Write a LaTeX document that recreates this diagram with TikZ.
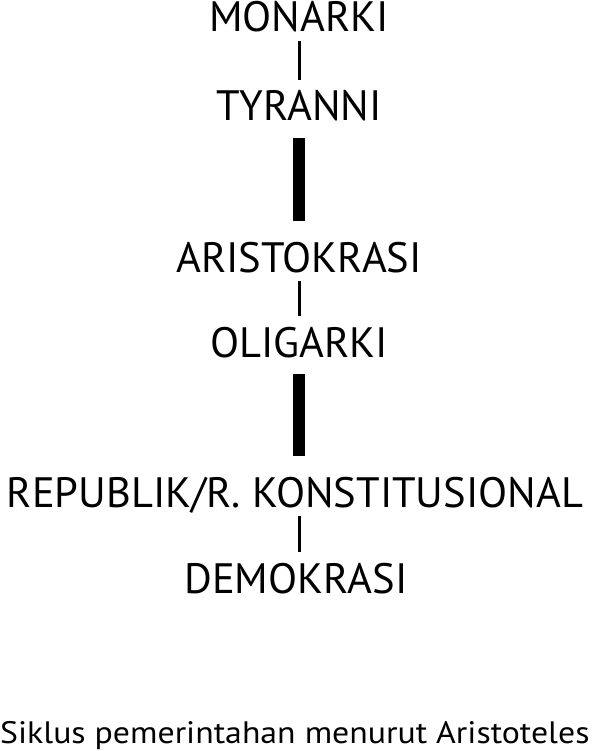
\documentclass[tikz,border=0pt]{standalone}
\usepackage{fontspec}
\setmainfont{PT Sans}
\newfontfamily\captionfont[FakeStretch=1.09]{PT Sans}
\usepackage{tikz}

\begin{document}
\begin{tikzpicture}[x=1pt, y=-1pt,
    stage/.style={inner sep=0pt, anchor=base, text height=30pt, text depth=0pt,
                  font=\fontsize{42.5}{42.5}\selectfont},
    thinlink/.style={line width=3pt, shorten <=9pt, shorten >=11pt},
    thicklink/.style={line width=12.5pt, shorten <=17pt, shorten >=21pt}]
             \useasboundingbox (0, 0) rectangle (592, 751);

             \node[stage] (mon) at (299, 32) {MONARKI};
             \node[stage] (tyr) at (299, 121) {TYRANNI};
             \node[stage] (ari) at (299, 272) {ARISTOKRASI};
             \node[stage] (oli) at (299, 357) {OLIGARKI};
             \node[stage] (rep) at (295, 507) {REPUBLIK/R. KONSTITUSIONAL};
             \node[stage] (dem) at (296, 593) {DEMOKRASI};

             \draw[thinlink] (mon.south) -- (tyr.north);
             \draw[thicklink] (tyr.south) -- (ari.north);
             \draw[thinlink] (ari.south) -- (oli.north);
             \draw[thicklink] (oli.south) -- (rep.north -| oli.south);
             \draw[thinlink] (rep.south -| oli.south) -- (dem.north -| oli.south);

             \node[inner sep=0pt, anchor=base west, font=\captionfont\fontsize{31}{31}\selectfont]
                   (cap) at (0, 743) {Siklus pemerintahan menurut Aristoteles};
\end{tikzpicture}
\end{document}
